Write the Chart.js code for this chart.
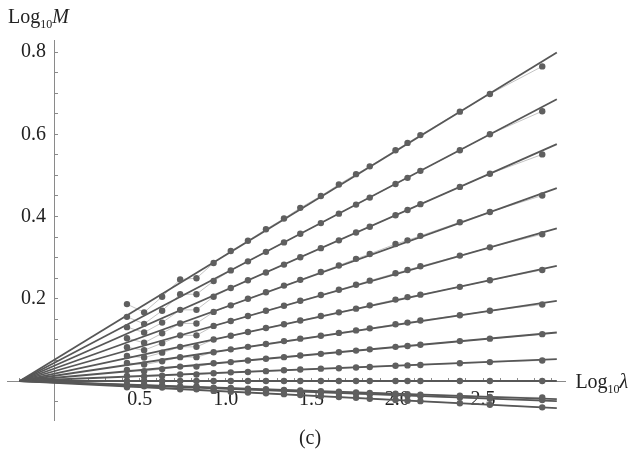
<!DOCTYPE html>
<html>
<head>
<meta charset="utf-8">
<script src="https://cdn.jsdelivr.net/npm/chart.js@4.4.1/dist/chart.umd.min.js"></script>
<style>
  html, body { margin: 0; padding: 0; background: #ffffff; }
  #wrap { width: 629px; height: 452px; }
</style>
</head>
<body>
<div id="wrap"><canvas id="c" width="629" height="452"></canvas></div>
<script>
// log10(lambda) sample positions shared by every curve
const logLambda = [0.425, 0.525, 0.63, 0.735, 0.83, 0.93, 1.03, 1.13, 1.235, 1.34, 1.435,
                   1.555, 1.66, 1.76, 1.84, 1.99, 2.06, 2.135, 2.365, 2.54, 2.845];

// log10(M) measured for each curve, top to bottom
const m01 = [0.187, 0.167, 0.205, 0.247, 0.250, 0.287, 0.316, 0.341, 0.369, 0.395, 0.421, 0.450, 0.478, 0.503, 0.522, 0.561, 0.579, 0.598, 0.655, 0.698, 0.765];
const m02 = [0.156, 0.139, 0.171, 0.211, 0.211, 0.243, 0.269, 0.291, 0.314, 0.337, 0.358, 0.384, 0.407, 0.429, 0.446, 0.479, 0.494, 0.511, 0.561, 0.600, 0.656];
const m03 = [0.131, 0.118, 0.142, 0.173, 0.173, 0.205, 0.226, 0.245, 0.264, 0.283, 0.301, 0.323, 0.342, 0.361, 0.375, 0.403, 0.416, 0.430, 0.472, 0.504, 0.551];
const m04 = [0.104, 0.093, 0.116, 0.140, 0.140, 0.168, 0.184, 0.200, 0.216, 0.232, 0.246, 0.265, 0.281, 0.297, 0.309, 0.333, 0.342, 0.353, 0.386, 0.411, 0.451];
const m05 = [0.082, 0.075, 0.092, 0.111, 0.111, 0.134, 0.146, 0.158, 0.171, 0.183, 0.195, 0.209, 0.222, 0.234, 0.244, 0.262, 0.270, 0.279, 0.305, 0.325, 0.357];
const m06 = [0.061, 0.057, 0.069, 0.083, 0.083, 0.101, 0.110, 0.119, 0.129, 0.138, 0.147, 0.158, 0.167, 0.176, 0.184, 0.198, 0.204, 0.210, 0.229, 0.245, 0.270];
const m07 = [0.044, 0.040, 0.048, 0.058, 0.058, 0.070, 0.077, 0.083, 0.090, 0.097, 0.103, 0.110, 0.117, 0.123, 0.128, 0.138, 0.142, 0.147, 0.160, 0.171, 0.186];
const m08 = [0.027, 0.024, 0.029, 0.035, 0.035, 0.043, 0.046, 0.050, 0.054, 0.058, 0.062, 0.066, 0.070, 0.074, 0.077, 0.083, 0.085, 0.088, 0.097, 0.103, 0.114];
const m09 = [0.012, 0.011, 0.013, 0.016, 0.016, 0.019, 0.021, 0.022, 0.024, 0.026, 0.028, 0.030, 0.031, 0.033, 0.034, 0.037, 0.038, 0.039, 0.043, 0.046, 0.050];
const m10 = [0.000, 0.000, 0.000, 0.000, 0.000, 0.000, 0.000, 0.000, 0.000, 0.000, 0.000, 0.000, 0.000, 0.000, 0.000, 0.000, 0.000, 0.000, 0.000, 0.000, 0.000];
const m11 = [-0.010, -0.009, -0.011, -0.013, -0.013, -0.016, -0.017, -0.019, -0.020, -0.022, -0.023, -0.025, -0.026, -0.028, -0.029, -0.031, -0.032, -0.033, -0.036, -0.039, -0.040];
const m12 = [-0.011, -0.010, -0.012, -0.015, -0.015, -0.018, -0.019, -0.021, -0.023, -0.024, -0.026, -0.028, -0.029, -0.031, -0.032, -0.034, -0.035, -0.037, -0.040, -0.043, -0.046];
const m13 = [-0.015, -0.013, -0.016, -0.020, -0.020, -0.024, -0.026, -0.028, -0.030, -0.032, -0.034, -0.037, -0.039, -0.041, -0.043, -0.046, -0.048, -0.049, -0.054, -0.058, -0.064];
const curves = [m01, m02, m03, m04, m05, m06, m07, m08, m09, m10, m11, m12, m13];

// fitted straight lines: common pivot on the axis, value of each fit at the right end
const fitPivotX = -0.2;
const fitEndX = 2.93;
const fitEnds = [0.799, 0.685, 0.576, 0.469, 0.371, 0.280, 0.195, 0.118, 0.053, 0.0, -0.044, -0.049, -0.066];

// labelled ticks
const xTickLabels = ['0.5', '1.0', '1.5', '2.0', '2.5'];
const yTickLabels = ['0.2', '0.4', '0.6', '0.8'];

const SERIF = '"Liberation Serif", "DejaVu Serif", serif';
const AXIS_GREY = '#8a8a8a';
const TEXT = '#222222';

const datasets = [];
curves.forEach((vals, i) => {
  const pts = logLambda.map((x, k) => ({ x: x, y: vals[k] }));
  // thin joining line through the measured points
  datasets.push({
    data: pts, showLine: true, borderColor: '#c4c4c4', borderWidth: 1,
    pointRadius: 0, order: 3
  });
  // fitted line
  datasets.push({
    data: [{ x: fitPivotX, y: 0 }, { x: fitEndX, y: fitEnds[i] }],
    showLine: true, borderColor: '#575757', borderWidth: 1.8,
    pointRadius: 0, order: 2
  });
  // measured points
  datasets.push({
    data: pts, showLine: false, pointRadius: 3.2, pointHoverRadius: 3.2,
    backgroundColor: '#5f5f5f', borderWidth: 0, order: 1
  });
});

function onStep(v, step) {
  return Math.abs(v / step - Math.round(v / step)) < 1e-6;
}
function labelFor(list, v) {
  const hit = list.find(l => Math.abs(parseFloat(l) - v) < 1e-6);
  return hit === undefined ? '' : hit;
}

const axisTitles = {
  id: 'axisTitles',
  afterDraw(chart) {
    const ctx = chart.ctx;
    const xs = chart.scales.x, ys = chart.scales.y;
    ctx.save();
    ctx.fillStyle = TEXT;
    ctx.textBaseline = 'alphabetic';
    ctx.textAlign = 'left';

    // vertical axis title: Log10 M
    let x = 8, base = 23;
    ctx.font = '20px ' + SERIF;
    ctx.fillText('Log', x, base);
    x += ctx.measureText('Log').width;
    ctx.font = '12px ' + SERIF;
    ctx.fillText('10', x, base + 5);
    x += ctx.measureText('10').width;
    ctx.font = 'italic 20px ' + SERIF;
    ctx.fillText('M', x, base);

    // horizontal axis title: Log10 lambda
    x = xs.right + 10;
    base = ys.getPixelForValue(0) + 7;
    ctx.font = '20px ' + SERIF;
    ctx.fillText('Log', x, base);
    x += ctx.measureText('Log').width;
    ctx.font = '12px ' + SERIF;
    ctx.fillText('10', x, base + 5);
    x += ctx.measureText('10').width;
    ctx.font = 'italic 20px ' + SERIF;
    ctx.fillText('\u03BB', x, base);

    // panel tag
    ctx.font = '20px ' + SERIF;
    ctx.textAlign = 'center';
    ctx.fillText('(c)', 310, 444);
    ctx.restore();
  }
};

new Chart(document.getElementById('c'), {
  type: 'scatter',
  data: { datasets: datasets },
  plugins: [axisTitles],
  options: {
    responsive: false,
    devicePixelRatio: 1,
    animation: false,
    events: [],
    layout: { padding: { left: 7.7, top: 40.9, right: 63.6, bottom: 31.1 } },
    plugins: { legend: { display: false }, tooltip: { enabled: false } },
    scales: {
      x: {
        type: 'linear',
        min: -0.27, max: 2.98,
        position: { y: 0 },
        afterFit(s) { s.height = 0; },
        afterBuildTicks(s) { s.ticks = s.ticks.filter(t => onStep(t.value, 0.1)); },
        border: { display: true, color: AXIS_GREY, width: 1 },
        grid: { display: true, drawOnChartArea: false, drawTicks: true, tickLength: -4, tickColor: AXIS_GREY, tickWidth: 1 },
        ticks: {
          stepSize: 0.1, includeBounds: false, autoSkip: false, minRotation: 0, maxRotation: 0, padding: 11,
          color: TEXT, font: { family: SERIF, size: 20 },
          callback: (v) => labelFor(xTickLabels, v)
        }
      },
      y: {
        type: 'linear',
        min: -0.097, max: 0.827,
        position: { x: 0 },
        afterFit(s) { s.width = 0; },
        afterBuildTicks(s) { s.ticks = s.ticks.filter(t => onStep(t.value, 0.05)); },
        border: { display: true, color: AXIS_GREY, width: 1 },
        grid: { display: true, drawOnChartArea: false, drawTicks: true, tickLength: -4, tickColor: AXIS_GREY, tickWidth: 1 },
        ticks: {
          stepSize: 0.05, includeBounds: false, autoSkip: false, padding: 8,
          color: TEXT, font: { family: SERIF, size: 20 },
          // two thin spaces keep the label clear of the axis line
          callback: (v) => { const l = labelFor(yTickLabels, v); return l ? l + '\u2009\u2009' : ''; }
        }
      }
    }
  }
});
</script>
</body>
</html>
